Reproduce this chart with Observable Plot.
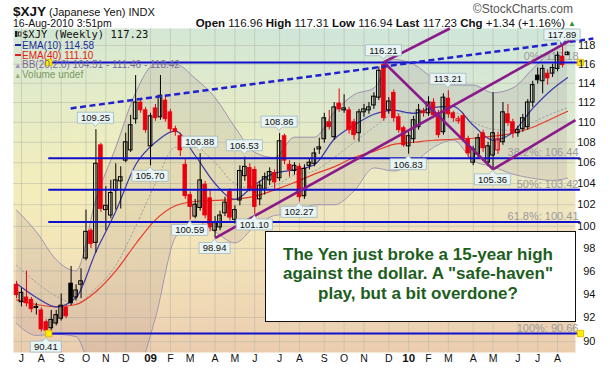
<!DOCTYPE html>
<html>
<head>
<meta charset="utf-8">
<script src="https://cdn.jsdelivr.net/npm/d3@7"></script>
<script src="https://cdn.jsdelivr.net/npm/@observablehq/plot@0.6"></script>
<style>
  html,body{margin:0;padding:0;background:#fff;}
  #chart svg{display:block;}
</style>
</head>
<body>
<div id="chart"></div>
<script>
// ---------------- data (weekly $XJY, week 0 = 30-Jun-2008) ----------------
const opens = [94.8,93.3,93.7,93.5,92.8,92.6,91.6,91.1,91.5,91.9,
  92.8,94.9,93.7,94.8,97.1,99.6,98.5,107.7,101.5,101.0,
  103.3,104.2,106.2,107.2,110.3,112.0,111.2,107.6,111.4,110.5,
  112.2,111.0,109.3,108.6,105.8,102.9,100.9,101.7,103.9,102.6,
  99.6,99.9,101.2,103.2,100.6,102.4,104.7,105.5,105.3,102.5,
  103.4,104.3,105.0,104.5,108.6,105.8,105.2,105.6,102.8,105.7,
  105.9,107.3,108.3,110.0,108.5,111.9,111.2,111.2,110.0,108.9,
  111.0,111.2,111.7,112.5,115.9,111.2,113.0,110.5,109.4,107.6,
  108.3,109.5,111.1,110.9,112.0,110.9,109.0,112.4,110.9,110.1,
  110.6,108.3,106.0,106.8,108.9,106.0,106.7,107.2,108.0,110.8,
  110.0,108.9,109.3,109.5,112.0,114.8,114.2,115.0,115.0,115.5,
  116.8,116.96];
const highs = [95.1,94.5,96.0,93.7,93.2,92.8,91.8,92.6,92.6,94.0,
  93.0,96.4,94.8,96.2,101.5,99.8,109.25,107.9,103.7,104.3,
  105.9,105.6,108.9,110.7,114.8,112.3,111.5,110.9,111.8,114.8,
  112.6,111.3,109.6,108.9,106.3,103.2,102.5,106.88,104.2,103.3,
  100.9,101.4,102.7,103.5,101.9,105.7,106.53,105.9,105.6,104.2,
  105.0,105.5,105.3,108.86,108.8,106.2,106.0,105.9,105.8,106.4,
  107.4,108.4,110.9,111.2,112.0,113.4,112.8,111.5,110.3,111.3,
  111.8,112.0,113.0,115.7,116.21,112.5,113.3,110.8,109.6,109.0,
  110.6,111.8,111.4,112.6,112.4,111.2,112.9,113.21,111.1,110.6,
  110.9,108.6,107.6,108.8,109.2,108.0,113.0,109.0,112.0,111.8,
  110.3,109.6,110.8,112.3,114.2,115.6,115.9,115.4,116.0,117.3,
  117.89,117.31];
const lows = [93.6,92.9,92.9,92.4,92.2,90.8,90.41,90.6,91.3,91.7,
  91.9,93.0,93.4,93.6,96.9,98.0,97.6,101.3,99.6,100.7,
  101.5,101.6,106.0,107.0,109.8,110.9,108.9,105.7,110.1,110.2,
  110.0,108.9,108.6,106.6,102.5,100.59,100.7,101.4,100.7,99.5,
  98.94,99.6,100.9,100.5,100.2,101.9,104.2,103.2,101.1,101.9,
  102.9,103.8,103.3,104.2,105.8,104.6,104.8,102.27,102.5,105.3,
  105.6,106.8,107.9,109.2,108.2,111.0,110.9,108.8,108.2,108.0,
  110.5,110.8,111.3,112.2,110.1,110.8,110.0,108.9,107.5,106.83,
  107.9,109.2,110.5,110.6,110.4,108.4,108.7,110.4,110.0,109.8,
  108.0,106.5,105.7,106.4,107.0,105.6,105.36,106.8,107.7,109.6,
  108.4,108.5,109.0,109.2,111.5,113.9,112.9,113.8,114.6,115.2,
  115.6,116.94];
const closes = [93.9,94.1,93.2,92.7,92.9,91.0,90.9,91.8,92.2,93.0,
  92.1,93.2,94.3,95.1,99.5,98.4,105.9,101.6,101.9,103.1,
  104.3,104.6,108.0,109.7,112.0,111.2,109.2,110.6,110.4,112.7,
  110.3,109.3,109.0,107.2,102.8,101.8,102.0,104.3,101.0,99.9,
  100.3,101.0,102.2,100.8,101.5,105.2,105.6,103.5,101.8,103.8,
  104.6,105.1,104.1,108.1,106.2,105.3,105.7,102.7,105.4,106.0,
  106.9,107.5,110.4,109.5,111.5,111.3,111.4,109.2,108.7,111.0,
  111.3,111.5,112.6,115.3,110.4,112.1,110.4,109.2,107.7,108.6,
  110.2,111.2,110.9,112.0,110.7,108.7,112.5,110.8,110.4,110.3,
  108.3,106.9,107.3,108.4,107.4,107.6,108.9,108.3,111.0,109.9,
  108.9,109.2,110.4,112.0,113.8,114.3,115.5,114.5,115.6,116.9,
  115.9,117.23];

// indicator readings, every 4 weeks
const sampleWeeks = [0,4,8,12,16,20,24,28,32,36,40,44,48,52,56,60,64,68,72,76,80,84,88,92,96,100,104,108,111];
const ema10  = [94.9,93.7,92.9,93.7,97.7,101.4,105.8,108.0,109.1,106.7,104.0,102.5,103.9,105.0,105.3,105.8,108.3,109.7,110.8,111.2,110.9,111.5,111.6,109.7,108.2,109.0,111.4,113.4,114.58];
const ema40  = [93.5,93.1,92.9,93.1,94.2,96.0,98.4,100.6,101.9,102.3,102.4,102.5,102.8,103.4,104.1,104.9,105.6,106.5,107.1,107.8,108.0,108.2,108.3,108.4,108.6,108.9,109.5,110.4,111.10];
const bbUpper  = [101.5,99.5,97.0,96.0,102.5,107.5,113.0,116.0,116.0,114.5,112.5,109.5,107.0,106.5,108.5,108.5,111.0,112.8,113.5,116.5,116.0,114.5,113.8,113.8,113.0,113.5,115.5,117.5,118.42];
const bbMiddle = [96.5,95.0,93.8,93.2,94.5,96.5,100.0,104.0,107.5,107.5,106.0,104.0,103.5,103.8,104.8,105.2,106.5,108.0,109.5,110.8,111.0,111.0,111.0,110.0,109.3,109.2,110.0,110.9,111.46];
const bbLower  = [91.5,90.5,90.6,90.4,86.5,85.5,87.0,92.0,99.0,100.5,99.5,98.5,100.0,101.0,101.2,102.0,102.0,103.3,105.5,105.2,106.0,107.5,108.2,106.2,105.6,104.9,104.5,104.3,104.51];

// Fibonacci retracement
const fibNames  = ["0%","38.2%","50%","61.8%","100%"];
const fibValues = [116.18,106.44,103.42,100.41,90.66];
const fibWeeks  = [6.5, 113.6];

// price callouts
const calloutWeeks  = [6,16,27,35,37,40,46,48,53,57,74,79,87,96,110];
const calloutValues = [90.41,109.25,105.70,100.59,106.88,98.94,106.53,101.10,108.86,102.27,116.21,106.83,113.21,105.36,117.89];
const calloutSides  = ["below","above","below","below","above","below","above","below","above","below","above","below","above","below","above"];

// trend lines
const dashedWeeks  = [10.9, 116.2];
const dashedValues = [111.4, 118.75];
const purpleFromWeeks  = [40, 74, 74, 96];
const purpleFromValues = [98.94, 116.21, 116.21, 105.36];
const purpleToWeeks    = [112.2, 87.3, 96, 112.6];
const purpleToValues   = [118.75, 119.85, 105.36, 110.2];

const yTickValues = [90,92,94,96,98,100,102,104,106,108,110,112,114,116,118];
const monthLabels = ["J","A","S","O","N","D","09","F","M","A","M","J","J","A","S","O","N","D","10","F","M","A","M","J","J","A"];

// ---------------- derived tables ----------------
const DAY = 864e5;
const week0 = Date.UTC(2008, 5, 30);
const weekDate = w => new Date(week0 + w * 7 * DAY);
const RED = "#e8000f", BLK = "#000000";

const candles = opens.map((o, i) => {
  const c = closes[i];
  const color = i === 0 ? RED : (c >= closes[i - 1] ? BLK : RED);
  return {date: weekDate(i), open: o, high: highs[i], low: lows[i], close: c,
          hollow: c >= o, color,
          b1: new Date(+weekDate(i) - 2.6 * DAY), b2: new Date(+weekDate(i) + 2.6 * DAY),
          lo: Math.min(o, c), hi: Math.max(o, c)};
});
const ind = sampleWeeks.map((w, k) => ({date: weekDate(w), e10: ema10[k], e40: ema40[k],
  up: bbUpper[k], mid: bbMiddle[k], low: bbLower[k]}));
const fib = fibValues.map((v, k) => ({v, name: fibNames[k], x1: weekDate(fibWeeks[0]), x2: weekDate(fibWeeks[1])}));
const fibCorners = [];
[0, 4].forEach(k => fibWeeks.forEach(w => fibCorners.push({date: weekDate(w), v: fibValues[k]})));
const dashed = [{x1: weekDate(dashedWeeks[0]), y1: dashedValues[0], x2: weekDate(dashedWeeks[1]), y2: dashedValues[1]}];
const purple = purpleFromWeeks.map((w, k) => ({x1: weekDate(w), y1: purpleFromValues[k], x2: weekDate(purpleToWeeks[k]), y2: purpleToValues[k]}));
const months = d3.utcMonth.range(new Date(Date.UTC(2008, 6, 1)), new Date(Date.UTC(2010, 8, 1)))
  .map((m, k) => ({date: d3.utcMonday.ceil(m), label: monthLabels[k]}));

const xDomain = [weekDate(-3 / 4.964), weekDate(111 + 8 / 4.964)];

const chart = Plot.plot({
  width: 610, height: 371,
  marginTop: 28, marginLeft: 13, marginRight: 35, marginBottom: 19,
  x: {type: "utc", domain: xDomain, axis: null},
  y: {type: "log", domain: [89.1, 119.85], axis: null},
  style: {background: "transparent", fontFamily: "'Liberation Sans', Arial, sans-serif", overflow: "visible"},
  marks: [
    Plot.frame({fill: "url(#bgv)"}),
    Plot.frame({fill: "url(#bgr)"}),
    Plot.ruleX(months, {x: "date", stroke: "#b8b8a8", strokeOpacity: 0.55, strokeWidth: 1}),
    Plot.ruleY(yTickValues, {y: d => d, stroke: "#b8b8a8", strokeOpacity: 0.55, strokeWidth: 1}),
    // Bollinger band
    Plot.areaY(ind, {x: "date", y1: "low", y2: "up", fill: "#6a4a6a", fillOpacity: 0.11, curve: "monotone-x", clip: true}),
    Plot.lineY(ind, {x: "date", y: "up", stroke: "#a093b2", strokeWidth: 1, curve: "monotone-x", clip: true}),
    Plot.lineY(ind, {x: "date", y: "low", stroke: "#a093b2", strokeWidth: 1, curve: "monotone-x", clip: true}),
    Plot.lineY(ind, {x: "date", y: "mid", stroke: "#a0a0a0", strokeWidth: 1, strokeDasharray: "1.5,2.5", curve: "monotone-x", clip: true}),
    // fib labels (under candles)
    Plot.text(fib, {y: "v", text: d => `${d.name}: ${d.v.toFixed(2)}`, frameAnchor: "right", dx: 3, dy: -2,
      textAnchor: "end", lineAnchor: "bottom", fill: "#9a9a9a", fontSize: 11}),
    // EMAs
    Plot.lineY(ind, {x: "date", y: "e40", stroke: "#e83a2a", strokeWidth: 1.2, curve: "monotone-x"}),
    Plot.lineY(ind, {x: "date", y: "e10", stroke: "#3a3aa8", strokeWidth: 1.2, curve: "monotone-x"}),
    // candles
    Plot.ruleX(candles, {x: "date", y1: "low", y2: "high", stroke: "color", strokeWidth: 1}),
    Plot.rect(candles.filter(d => !d.hollow), {x1: "b1", x2: "b2", y1: "lo", y2: "hi", fill: "color", stroke: "color", strokeWidth: 0.8}),
    Plot.rect(candles.filter(d => d.hollow), {x1: "b1", x2: "b2", y1: "lo", y2: "hi", fill: "none", stroke: "color", strokeWidth: 1}),
    // fib lines
    Plot.ruleY(fib, {y: "v", x1: "x1", x2: "x2", stroke: "#1010cc", strokeWidth: 2}),
    Plot.dot(fibCorners, {x: "date", y: "v", symbol: "square", r: 3.6, fill: "#ffee00", stroke: "#e0b000", strokeWidth: 0.8}),
    // trend lines
    Plot.link(dashed, {x1: "x1", y1: "y1", x2: "x2", y2: "y2", stroke: "#2020d0", strokeWidth: 2.5, strokeDasharray: "6,3.5"}),
    Plot.link(purple, {x1: "x1", y1: "y1", x2: "x2", y2: "y2", stroke: "#8a1a8a", strokeWidth: 2.6}),
    // axes text
    Plot.text(yTickValues, {y: d => d, text: d => String(d), frameAnchor: "right", dx: 20, textAnchor: "end", fill: "#111", fontSize: 11}),
    Plot.text(months.filter(d => d.label.length === 1), {x: "date", text: "label", frameAnchor: "bottom", dy: 9, fill: "#111", fontSize: 10.5}),
    Plot.text(months.filter(d => d.label.length === 2), {x: "date", text: "label", frameAnchor: "bottom", dy: 9, fill: "#111", fontSize: 11.5, fontWeight: "bold"})
  ]
});

document.getElementById("chart").appendChild(chart);
const svg = d3.select(chart);

// background gradients
const defs = svg.insert("defs", ":first-child");
const gv = defs.append("linearGradient").attr("id", "bgv").attr("x1", 0).attr("y1", 0).attr("x2", 0).attr("y2", 1);
[[0, "#cfe6d9"], [0.28, "#dde9d0"], [0.5, "#eee9c3"], [0.72, "#f0dcbc"], [1, "#ebcdae"]]
  .forEach(([o, c]) => gv.append("stop").attr("offset", o).attr("stop-color", c));
const gr = defs.append("radialGradient").attr("id", "bgr").attr("cx", 0.18).attr("cy", 0.45).attr("r", 0.55);
[[0, "#fbf3b0", 0.55], [1, "#fbf3b0", 0]]
  .forEach(([o, c, a]) => gr.append("stop").attr("offset", o).attr("stop-color", c).attr("stop-opacity", a));

const xs = chart.scale("x"), ys = chart.scale("y");
const FONT = "'Liberation Sans', Arial, sans-serif";

// callouts
const cg = svg.append("g").attr("font-family", FONT).attr("font-size", 9.5);
calloutWeeks.forEach((w, k) => {
  const v = calloutValues[k], above = calloutSides[k] === "above";
  const px = xs.apply(weekDate(w)), py = ys.apply(v);
  const label = v.toFixed(2);
  const bw = label.length * 5.2 + 5, bh = 11;
  const cy = above ? py - 11.5 : py + 10.5;
  const top = cy - bh / 2, bot = cy + bh / 2, l = px - bw / 2, r = px + bw / 2;
  const path = above
    ? `M${l},${top}H${r}V${bot}H${px + 3}L${px},${bot + 3.5}L${px - 3},${bot}H${l}Z`
    : `M${l},${top}H${px - 3}L${px},${top - 3.5}L${px + 3},${top}H${r}V${bot}H${l}Z`;
  cg.append("path").attr("d", path).attr("fill", "#e9f4f4").attr("stroke", "#9fb8bf").attr("stroke-width", 0.8);
  cg.append("text").attr("x", px).attr("y", cy + 3.4).attr("text-anchor", "middle").attr("fill", "#111").text(label);
});

// header
const hg = svg.append("g").attr("font-family", FONT).attr("text-anchor", "start");
hg.append("text").attr("x", 13).attr("y", 15.5).attr("font-size", 13.5).attr("font-weight", "bold").attr("fill", "#111").text("$XJY");
hg.append("text").attr("x", 49).attr("y", 15.5).attr("font-size", 11).attr("fill", "#111").text("(Japanese Yen) INDX");
hg.append("text").attr("x", 13).attr("y", 27).attr("font-size", 10.5).attr("fill", "#111").text("16-Aug-2010 3:51pm");
hg.append("text").attr("x", 573).attr("y", 13).attr("font-size", 12).attr("fill", "#555").attr("text-anchor", "end").text("\u00A9StockCharts.com");
const qt = hg.append("text").attr("x", 565).attr("y", 27).attr("font-size", 11.5).attr("fill", "#111").attr("text-anchor", "end");
[["Open", true], [" 116.96 ", false], ["High", true], [" 117.31 ", false], ["Low", true], [" 116.94 ", false],
 ["Last", true], [" 117.23 ", false], ["Chg", true], [" +1.34 (+1.16%)", false]]
  .forEach(([t, b]) => qt.append("tspan").attr("font-weight", b ? "bold" : "normal").text(t));
hg.append("text").attr("x", 568).attr("y", 26).attr("font-size", 8).attr("fill", "#2a9a2a").text("\u25B2");

// legend inside the plot
const lg = svg.append("g").attr("font-family", FONT).attr("text-anchor", "start");
lg.append("text").attr("x", 22).attr("y", 38).attr("font-family", "'DejaVu Sans Mono', monospace").attr("font-size", 10.5).attr("fill", "#111").text("$XJY (Weekly) 117.23");
lg.append("rect").attr("x", 15).attr("y", 31).attr("width", 2.5).attr("height", 6).attr("fill", "#222");
lg.append("rect").attr("x", 18.5).attr("y", 32).attr("width", 2.5).attr("height", 4).attr("fill", "none").attr("stroke", "#222").attr("stroke-width", 0.8);
const legendRows = [["EMA(10) 114.58", "#1c2c9c", 48.5], ["EMA(40) 111.10", "#e02020", 58.5]];
legendRows.forEach(([t, c, y]) => {
  lg.append("line").attr("x1", 15).attr("x2", 21).attr("y1", y - 3.5).attr("y2", y - 3.5).attr("stroke", c).attr("stroke-width", 2);
  lg.append("text").attr("x", 22).attr("y", y).attr("font-size", 10).attr("fill", c).text(t);
});
lg.append("text").attr("x", 14).attr("y", 68).attr("font-size", 7.5).attr("fill", "#a090c0").text("\u25B2");
lg.append("text").attr("x", 22).attr("y", 68).attr("font-size", 10).attr("fill", "#7a6a9a").text("BB(20,2.0) 104.51 - 111.46 - 118.42");
lg.append("text").attr("x", 14).attr("y", 78).attr("font-size", 7.5).attr("fill", "#9ab080").text("\u25B2");
lg.append("text").attr("x", 22).attr("y", 78).attr("font-size", 10).attr("fill", "#7a9a68").text("Volume undef");

// comment box
const bx = svg.append("g").attr("font-family", FONT);
bx.append("rect").attr("x", 265.5).attr("y", 231.5).attr("width", 310).attr("height", 90).attr("fill", "#fff").attr("stroke", "#111").attr("stroke-width", 1);
["The Yen just broke a 15-year high", "against the dollar. A \"safe-haven\"", "play, but a bit overdone?"]
  .forEach((t, k) => bx.append("text").attr("x", 418).attr("y", 259.5 + k * 19.5).attr("text-anchor", "middle")
    .attr("font-size", 17).attr("font-weight", "bold").attr("fill", "#1d5e1d").text(t));
</script>
</body>
</html>
